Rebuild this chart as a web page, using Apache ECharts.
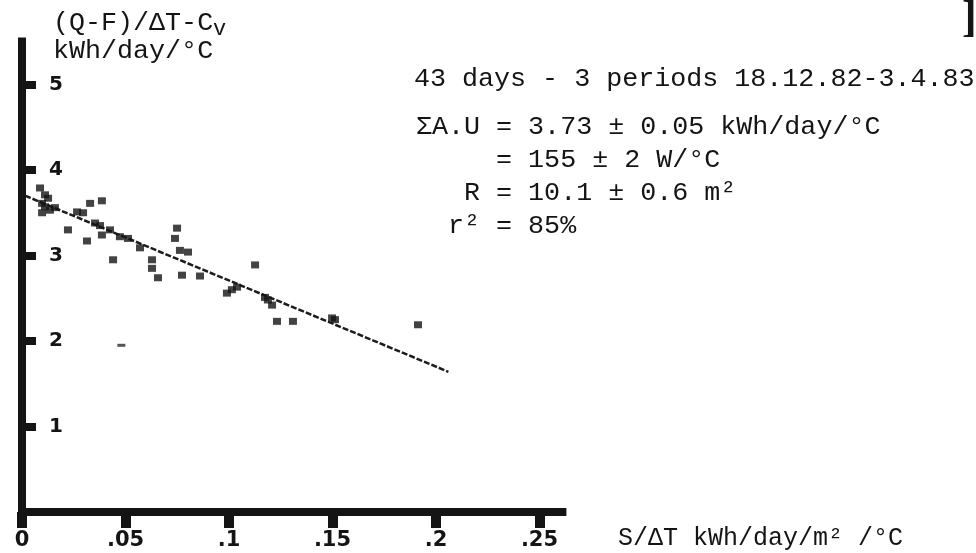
<!DOCTYPE html>
<html>
<head>
<meta charset="utf-8">
<script src="https://cdn.jsdelivr.net/npm/echarts@6/dist/echarts.min.js"></script>
<style>
html,body{margin:0;padding:0;background:#ffffff;}
#chart{width:976px;height:553px;}
</style>
</head>
<body>
<div id="chart"></div>
<script>
// ---- data ----
const xTicks = [0, 0.05, 0.1, 0.15, 0.2, 0.25];
const xTickLabels = ["0", ".05", ".1", ".15", ".2", ".25"];
const yTicks = [1, 2, 3, 4, 5];
const yTickLabels = ["1", "2", "3", "4", "5"];

// daily points: S/ΔT (kWh/day/m²/°C) and (Q-F)/ΔT-Cv (kWh/day/°C)
const pointsX = [0.0087, 0.0126, 0.0097, 0.0097, 0.0135, 0.0111, 0.0266, 0.0295, 0.0329, 0.0386,
                 0.0222, 0.0353, 0.0314, 0.0386, 0.0425, 0.0440, 0.0473, 0.0512, 0.0570, 0.0628,
                 0.0628, 0.0657, 0.0749, 0.0739, 0.0763, 0.0802, 0.0773, 0.0860, 0.0990, 0.1039,
                 0.1126, 0.1174, 0.1208, 0.1232, 0.1309, 0.1512, 0.1913, 0.0111, 0.0159, 0.0377,
                 0.1014, 0.1188, 0.1498];
const pointsY = [3.79, 3.67, 3.61, 3.50, 3.53, 3.57, 3.51, 3.50, 3.61, 3.64,
                 3.30, 3.38, 3.17, 3.24, 3.30, 2.95, 3.22, 3.20, 3.09, 2.95,
                 2.85, 2.74, 3.32, 3.20, 3.06, 3.04, 2.77, 2.76, 2.56, 2.63,
                 2.89, 2.51, 2.42, 2.23, 2.23, 2.25, 2.19, 3.71, 3.56, 3.35,
                 2.60, 2.48, 2.27];
// faintly printed mark
const faintX = [0.048];
const faintY = [1.95];
// regression line end points
const fitX = [0.0015, 0.206];
const fitY = [3.70, 1.64];

const yTitle1 = "(Q-F)/ΔT-C";
const yTitleSub = "v";
const yTitle2 = "kWh/day/°C";
const xTitle = "S/ΔT kWh/day/m² /°C";
const noteLines = [
  "43 days - 3 periods 18.12.82-3.4.83",
  "ΣA.U = 3.73 ± 0.05 kWh/day/°C",
  "     = 155 ± 2 W/°C",
  "   R = 10.1 ± 0.6 m²",
  "  r² = 85%"
];

// ---- chart ----
const ink = '#141414';
const typeFont = '"Liberation Mono", "DejaVu Sans Mono", monospace';
const tickFont = '"DejaVu Sans", sans-serif';

function zip(a, b) { return a.map((v, i) => [v, b[i]]); }
function labelFor(ticks, labels) {
  return function (v) {
    for (let i = 0; i < ticks.length; i++) {
      if (Math.abs(ticks[i] - v) < 1e-9) return labels[i];
    }
    return '';
  };
}

const chart = echarts.init(document.getElementById('chart'), null, {renderer: 'canvas'});

const noteY = [79, 127, 160, 193, 226];
const noteX = [414, 416, 416, 416, 416];
const graphics = [
  {type: 'text', x: 53, y: 23, style: {text: yTitle1, font: '26.7px ' + typeFont, fill: ink, verticalAlign: 'middle', align: 'left'}},
  {type: 'text', x: 213, y: 29, style: {text: yTitleSub, font: '22px ' + typeFont, fill: ink, verticalAlign: 'middle', align: 'left'}},
  {type: 'text', x: 53, y: 51, style: {text: yTitle2, font: '26.7px ' + typeFont, fill: ink, verticalAlign: 'middle', align: 'left'}},
  {type: 'text', x: 618, y: 538, style: {text: xTitle, font: '25px ' + typeFont, fill: ink, verticalAlign: 'middle', align: 'left'}},
  {type: 'text', x: 962, y: 20, style: {text: ']', font: 'bold 44px "Liberation Serif", serif', fill: ink, verticalAlign: 'middle', align: 'left'}}
];
noteLines.forEach((t, i) => {
  graphics.push({type: 'text', x: noteX[i], y: noteY[i],
    style: {text: t, font: '26.7px ' + typeFont, fill: ink, verticalAlign: 'middle', align: 'left'}});
});

const option = {
  backgroundColor: '#ffffff',
  animation: false,
  grid: {left: 22, right: 409.6, top: 37.5, bottom: 41, containLabel: false, outerBoundsMode: 'none'},
  xAxis: {
    type: 'value', min: 0, max: 0.263,
    axisLine: {show: true, onZero: false, lineStyle: {color: ink, width: 8, cap: 'butt'}},
    axisTick: {show: true, inside: false, length: 16, customValues: xTicks, lineStyle: {color: ink, width: 10}},
    axisLabel: {show: true, customValues: xTicks, formatter: labelFor(xTicks, xTickLabels), margin: 18,
      fontFamily: tickFont, fontWeight: 'bold', fontSize: 21, color: ink},
    splitLine: {show: false}
  },
  yAxis: {
    type: 'value', min: 0, max: 5.55,
    axisLine: {show: true, onZero: false, lineStyle: {color: ink, width: 8, cap: 'butt'}},
    axisTick: {show: true, inside: true, length: 14, customValues: yTicks, lineStyle: {color: ink, width: 8}},
    axisLabel: {show: true, inside: true, customValues: yTicks, formatter: labelFor(yTicks, yTickLabels), margin: 27,
      fontFamily: tickFont, fontWeight: 'bold', fontSize: 20, color: ink},
    splitLine: {show: false}
  },
  graphic: graphics,
  series: [
    {
      type: 'line', data: zip(fitX, fitY), showSymbol: false, symbol: 'none', z: 2,
      lineStyle: {color: '#1c1c1c', width: 2.5, type: [6, 2]}
    },
    {
      type: 'scatter', data: zip(pointsX, pointsY), symbol: 'rect', symbolSize: [8, 7], z: 3,
      itemStyle: {color: ink}
    },
    {
      type: 'scatter', data: zip(faintX, faintY), symbol: 'rect', symbolSize: [8, 3], z: 3,
      itemStyle: {color: '#2a2a2a'}
    }
  ]
};
chart.setOption(option);
</script>
</body>
</html>
